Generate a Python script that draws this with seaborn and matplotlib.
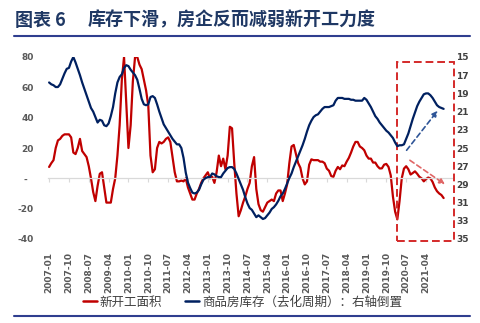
import numpy as np
import pandas as pd
import matplotlib
matplotlib.use('Agg')
import matplotlib.pyplot as plt
import seaborn as sns
from matplotlib.patches import Rectangle
from matplotlib.lines import Line2D
from matplotlib.font_manager import FontProperties

# ---------------- data ----------------
start_month = '2007-01'
# 新开工面积 (YoY %, left axis)
new_starts = [
    7.5, 10, 12, 20, 25, 26, 28, 29, 29, 29, 27, 17,          # 2007
    16, 20, 26, 18, 16, 14, 8, 0, -9, -15, -5, 3,             # 2008
    4, -6, -16, -16, -16, -7, 0, 15, 35, 65, 80, 50,          # 2009
    20, 35, 64, 80, 80, 75, 72, 65, 58, 48, 15, 4,            # 2010
    6, 20, 24, 23, 24, 26, 27, 24, 14, 4, -2, -2,             # 2011
    -1.5, -2, 0, -6, -10, -14, -14, -10, -7, -3, 0, 2,        # 2012
    4, 0, 1, -3, 4, 15, 8, 13, 6, 15, 34, 33,                 # 2013
    10, -10, -25, -21, -16, -12, -7, -3, 8, 14, -7, -17,      # 2014
    -21, -22, -19, -16, -15, -14, -15, -10, -8, -8, -15, -10, # 2015
    -4, 10, 21, 22, 16, 10, 7, 0, -4, -2, 9, 12.5,            # 2016
    12, 12, 12, 11, 11, 10, 6.4, 5, 1.5, 1, 5, 7.5,           # 2017
    6, 8.5, 8, 11, 13.5, 17, 21, 24, 24, 21, 20, 18.5,        # 2018
    15, 13, 13, 10.4, 10.4, 8, 6.5, 6.6, 9, 9.5, 7.5, 2,      # 2019
    -12, -22, -27, -15, 0, 6.4, 8, 6, 2.5, 3.5, 4.6, 3,       # 2020
    1, 0, -2, -0.5, 0.5, 0, -2.4, -6, -8.5, -10, -11, -13,    # 2021
]
# 商品房库存（去化周期，月）: right axis, inverted
inventory = [
    17.8, 18.0, 18.1, 18.3, 18.3, 18.0, 17.4, 16.8, 16.3, 16.2, 15.5, 15.0,
    15.6, 16.3, 17.0, 17.8, 18.5, 19.2, 19.9, 20.6, 21.0, 21.6, 22.2, 21.9,
    22.0, 22.5, 22.6, 22.3, 21.5, 20.5, 19.0, 17.8, 17.2, 16.9, 16.2, 15.9,
    16.0, 16.4, 16.7, 17.0, 17.5, 18.5, 19.6, 20.2, 20.3, 20.2, 19.4, 19.3,
    19.5, 20.2, 21.0, 21.7, 22.4, 22.8, 23.2, 23.6, 24.0, 24.3, 24.6, 24.6,
    25.0, 26.1, 27.7, 28.8, 29.4, 29.9, 30.0, 29.9, 29.6, 29.0, 28.5, 28.3,
    28.2, 28.2, 27.8, 27.9, 28.1, 28.2, 28.2, 27.8, 27.5, 27.2, 27.1, 27.1,
    27.3, 27.8, 28.4, 29.0, 29.6, 30.4, 31.1, 31.6, 31.8, 32.2, 32.6, 32.4,
    32.6, 32.8, 32.7, 32.4, 32.1, 31.7, 31.5, 31.2, 30.8, 30.3, 30.0, 29.5,
    28.9, 28.3, 27.8, 27.1, 26.5, 25.9, 25.3, 24.7, 24.0, 23.2, 22.5, 22.0,
    21.6, 21.4, 21.3, 21.0, 20.7, 20.5, 20.5, 20.5, 20.4, 20.3, 19.8, 19.5,
    19.5, 19.5, 19.6, 19.6, 19.6, 19.7, 19.7, 19.8, 19.8, 19.8, 19.8, 19.5,
    19.7, 20.1, 20.5, 21.0, 21.5, 21.8, 22.2, 22.5, 22.8, 23.1, 23.3, 23.6,
    23.9, 24.4, 24.8, 24.7, 24.7, 24.6, 24.0, 23.4, 22.6, 21.8, 21.1, 20.4,
    19.9, 19.5, 19.1, 19.0, 19.0, 19.2, 19.5, 19.9, 20.3, 20.5, 20.6, 20.7,
]
tick_step = 9
left_ticks = [-40, -20, 0, 20, 40, 60, 80]
left_labels = ['-40', '-20', '-  ', '20', '40', '60', '80']
right_ticks = [15, 17, 19, 21, 23, 25, 27, 29, 31, 33, 35]
title_tag = '图表 6'
title = '库存下滑，房企反而减弱新开工力度'
label_red = '新开工面积'
label_blue = '商品房库存（去化周期）：右轴倒置'

months = pd.period_range(start_month, periods=len(new_starts), freq='M')
df = pd.DataFrame({'idx': np.arange(len(months)), 'new': new_starts, 'inv': inventory})
tick_idx = list(range(0, len(months), tick_step))
tick_lab = [months[i].strftime('%Y-%m') for i in tick_idx]

# ---------------- style ----------------
sns.set_theme(style='white')
plt.rcParams['font.family'] = ['DejaVu Sans', 'Noto Sans CJK SC']
CJK = ['Noto Sans CJK SC', 'DejaVu Sans']
RED = '#C00000'
NAVY = '#002060'
GRAY = '#595959'

W, H = 480, 323
fig = plt.figure(figsize=(4.8, 3.23), dpi=100)
ax = fig.add_axes([48 / W, 1 - 239 / H, (452 - 48) / W, (239 - 57) / H])

sns.lineplot(data=df, x='idx', y='new', ax=ax, color=RED, lw=1.6)
ax.set_xlim(-0.5, 182.8)
ax.set_ylim(-40, 80)
ax.set_yticks(left_ticks)
ax.set_yticklabels(left_labels)
ax.set_xticks(tick_idx)
ax.set_xticklabels(tick_lab)
ax.set_xlabel('')
ax.set_ylabel('')
for s in ['top', 'right', 'left']:
    ax.spines[s].set_visible(False)
ax.spines['bottom'].set_position(('data', 0))
ax.spines['bottom'].set_color('#D9D9D9')
ax.spines['bottom'].set_linewidth(0.9)
ax.tick_params(axis='x', bottom=True, length=3, width=0.8, color='#D9D9D9',
               pad=50, labelrotation=90, labelsize=6.5, labelcolor=GRAY)
ax.tick_params(axis='y', length=0, pad=10, labelsize=6.5, labelcolor=GRAY)
for t in ax.get_xticklabels() + ax.get_yticklabels():
    t.set_fontweight('bold')

ax2 = ax.twinx()
sns.lineplot(data=df, x='idx', y='inv', ax=ax2, color=NAVY, lw=1.6)
ax2.set_ylim(35, 15)
ax2.set_yticks(right_ticks)
ax2.set_ylabel('')
for s in ax2.spines.values():
    s.set_visible(False)
ax2.tick_params(axis='y', length=0, pad=3, labelsize=6.5, labelcolor='#404040')
for t in ax2.get_yticklabels():
    t.set_fontweight('bold')

# dashed highlight box and trend arrows
ax.add_patch(Rectangle((157.8, -41), 183.7 - 157.8, 76.4 + 41, fill=False,
                       ec='#D42A2A', lw=1.4, ls=(0, (4, 2)), clip_on=False, zorder=5))
ax.annotate('', xy=(176.3, 44.6), xytext=(162.2, 18.5),
            arrowprops=dict(arrowstyle='-|>', ls=(0, (3, 2)), color='#2F5597', lw=1.2,
                            mutation_scale=8, shrinkA=0, shrinkB=0))
ax.annotate('', xy=(179.6, -4), xytext=(163.7, 11.9),
            arrowprops=dict(arrowstyle='-|>', ls=(0, (3, 2)), color='#E06666', lw=1.2,
                            mutation_scale=8, shrinkA=0, shrinkB=0))

# title and rules
fig.text(15 / W, 1 - 20 / H, title_tag, va='center', ha='left', fontsize=13,
         fontweight='bold', color='#1F3864', family=CJK)
fig.text(88 / W, 1 - 20 / H, title, va='center', ha='left', fontsize=13,
         fontweight='bold', color='#1F3864', family=CJK)
fig.add_artist(Line2D([14 / W, 470 / W], [1 - 36 / H] * 2, color='#2F3E8F', lw=1.5))
fig.add_artist(Line2D([14 / W, 470 / W], [1 - 316 / H] * 2, color='#2F3E8F', lw=1.5))

# legend
handles = [Line2D([], [], color=RED, lw=1.8), Line2D([], [], color=NAVY, lw=1.8)]
leg = fig.legend(handles, [label_red, label_blue], loc='center',
                 bbox_to_anchor=(0.505, 1 - 302 / H), ncol=2, frameon=False,
                 prop=FontProperties(family=CJK, size=9), handlelength=1.1,
                 handletextpad=0.25, columnspacing=1.8)
for t in leg.get_texts():
    t.set_color('#404040')

fig.savefig('out.png', dpi=100)
